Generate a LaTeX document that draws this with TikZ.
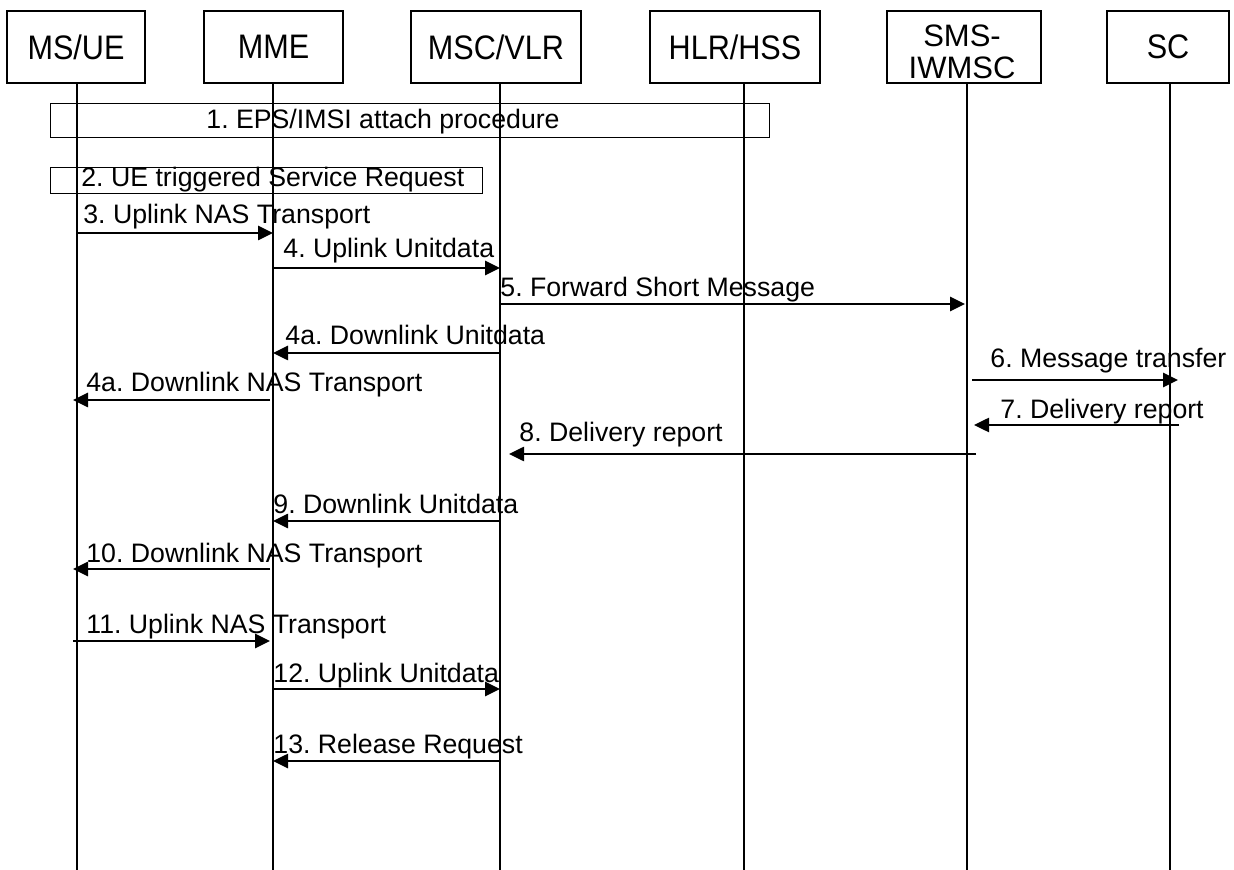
\documentclass[tikz,border=0pt]{standalone}
\usepackage{fontspec}
\setmainfont{Liberation Sans}
\newfontfamily\hdrfont[FakeStretch=0.9]{Liberation Sans}
\usetikzlibrary{arrows.meta}
\frenchspacing
\begin{document}
\begin{tikzpicture}[x=0.5pt,y=-0.5pt,
  hdr/.style={draw, line width=0.55pt, inner sep=0pt, align=center, minimum height=36pt, font=\hdrfont\fontsize{17}{17}\selectfont},
  hdrtxt/.style={inner sep=0pt, align=center, font=\fontsize{15.5}{16.25}\selectfont},
  lbl/.style={inner sep=0pt, anchor=base west, font=\fontsize{13.35}{15}\selectfont},
  life/.style={line width=0.8pt},
  msg/.style={line width=1.3pt, -{Triangle[length=7.5pt,width=7pt]}},
  frame/.style={draw, line width=0.55pt, inner sep=0pt, anchor=north west}]
\useasboundingbox (0,0) rectangle (1234,870);
% header boxes
\node[hdr, minimum width=69pt]   (ue)  at (76,47) {MS/UE};
\node[hdr, minimum width=69.5pt] (mme) at (273.5,47) {MME};
\node[hdr, minimum width=85pt]   (msc) at (496,47) {MSC/VLR};
\node[hdr, minimum width=85pt]   (hlr) at (735,47) {HLR/HSS};
\node[hdr, minimum width=77pt]   (sms) at (964,47) {};
\node[hdrtxt] (smst) at (962,52) {SMS-\\IWMSC};
\node[hdr, minimum width=61pt]   (sc)  at (1168,47) {SC};
% lifeline ends
\coordinate (ueB)  at (77,870);
\coordinate (mmeB) at (273,870);
\coordinate (mscB) at (500,870);
\coordinate (hlrB) at (744,870);
\coordinate (smsB) at (967,870);
\coordinate (scB)  at (1170,870);
\draw[life] (ue.south -| ueB) -- (ueB);
\draw[life] (mme.south -| mmeB) -- (mmeB);
\draw[life] (msc.south -| mscB) -- (mscB);
\draw[life] (hlr.south -| hlrB) -- (hlrB);
\draw[life] (sms.south -| smsB) -- (smsB);
\draw[life] (sc.south -| scB) -- (scB);
% procedure frames
\node[frame, minimum width=359.5pt, minimum height=17pt] (eps) at (50,103) {};
\node[lbl] (epst) at (206,129) {1. EPS/IMSI attach procedure};
\node[frame, minimum width=216pt, minimum height=13pt] (sr) at (50,167) {};
\node[lbl] (srt) at (81,187) {2. UE triggered Service Request};
% message end points
\coordinate (m3a) at (77,233);   \coordinate (m3b) at (273,233);
\coordinate (m4a) at (273,268);  \coordinate (m4b) at (500,268);
\coordinate (m5a) at (499,304);  \coordinate (m5b) at (965,304);
\coordinate (m4xa) at (500,353); \coordinate (m4xb) at (273,353);
\coordinate (m4ya) at (270,400); \coordinate (m4yb) at (73,400);
\coordinate (m6a) at (972,380);  \coordinate (m6b) at (1178,380);
\coordinate (m7a) at (1179,425); \coordinate (m7b) at (974,425);
\coordinate (m8a) at (976,454);  \coordinate (m8b) at (509,454);
\coordinate (m9a) at (500,521);  \coordinate (m9b) at (273,521);
\coordinate (m10a) at (270,569); \coordinate (m10b) at (73,569);
\coordinate (m11a) at (73,641);  \coordinate (m11b) at (270,641);
\coordinate (m12a) at (273,689); \coordinate (m12b) at (500,689);
\coordinate (m13a) at (500,761); \coordinate (m13b) at (273,761);
% messages
\draw[msg] (m3a) -- (m3b);   \node[lbl] at (83,224) {3. Uplink NAS Transport};
\draw[msg] (m4a) -- (m4b);   \node[lbl] at (283,258) {4. Uplink Unitdata};
\draw[msg] (m5a) -- (m5b);   \node[lbl] at (500,297) {5. Forward Short Message};
\draw[msg] (m4xa) -- (m4xb); \node[lbl] at (285,345) {4a. Downlink Unitdata};
\draw[msg] (m4ya) -- (m4yb); \node[lbl] at (86,392) {4a. Downlink NAS Transport};
\draw[msg] (m6a) -- (m6b);   \node[lbl] at (990,368) {6. Message transfer};
\draw[msg] (m7a) -- (m7b);   \node[lbl] at (1000,419) {7. Delivery report};
\draw[msg] (m8a) -- (m8b);   \node[lbl] at (519,442) {8. Delivery report};
\draw[msg] (m9a) -- (m9b);   \node[lbl] at (273,513) {9. Downlink Unitdata};
\draw[msg] (m10a) -- (m10b); \node[lbl] at (86,562) {10. Downlink NAS Transport};
\draw[msg] (m11a) -- (m11b); \node[lbl] at (86,633) {11. Uplink NAS Transport};
\draw[msg] (m12a) -- (m12b); \node[lbl] at (273,682) {12. Uplink Unitdata};
\draw[msg] (m13a) -- (m13b); \node[lbl] at (273,753) {13. Release Request};
\end{tikzpicture}
\end{document}
